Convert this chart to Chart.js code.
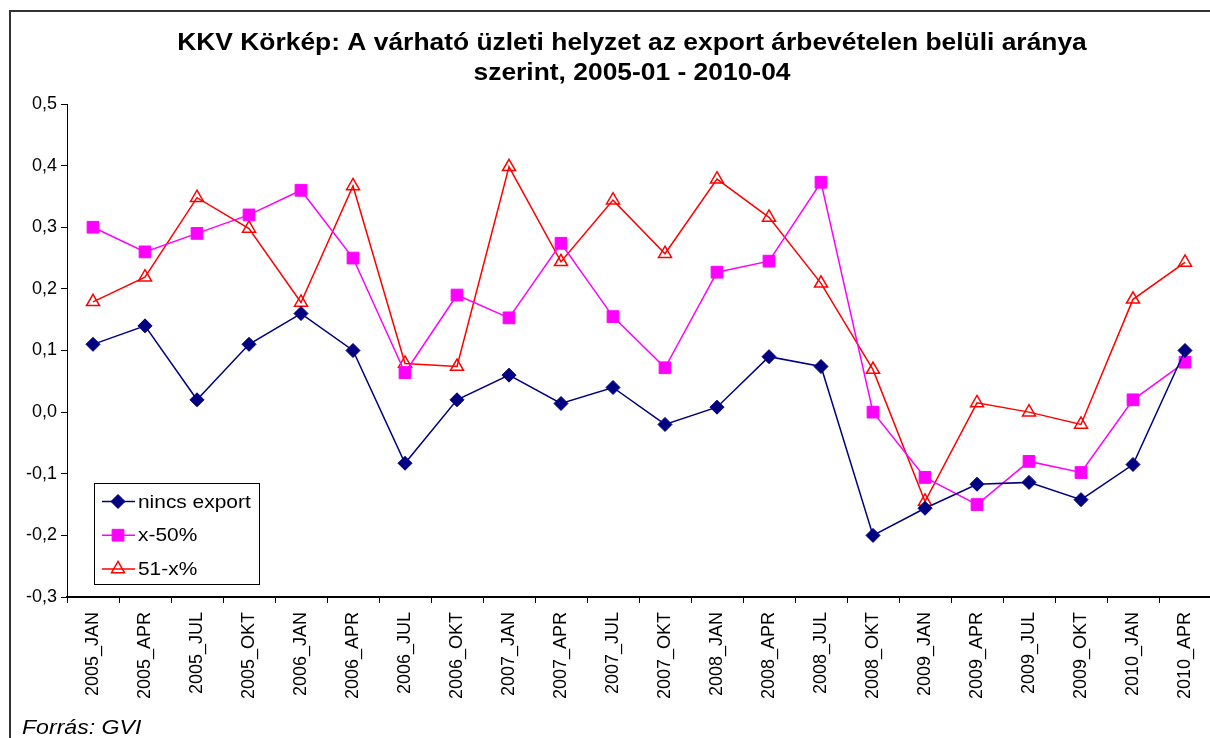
<!DOCTYPE html>
<html>
<head>
<meta charset="utf-8">
<script src="https://cdn.jsdelivr.net/npm/chart.js@4.4.0/dist/chart.umd.min.js"></script>
<style>
html, body { margin: 0; padding: 0; overflow: hidden; background: #fff; }
#wrap { position: absolute; left: 0; top: 0; width: 1230px; height: 738px; }
</style>
</head>
<body>
<div id="wrap"><canvas id="kkvChart" width="1230" height="738"></canvas></div>
<script>
var CATEGORIES = ['2005_JAN','2005_APR','2005_JUL','2005_OKT','2006_JAN','2006_APR','2006_JUL','2006_OKT',
                  '2007_JAN','2007_APR','2007_JUL','2007_OKT','2008_JAN','2008_APR','2008_JUL','2008_OKT',
                  '2009_JAN','2009_APR','2009_JUL','2009_OKT','2010_JAN','2010_APR'];
var NINCS_EXPORT = [0.11, 0.14, 0.02, 0.11, 0.16, 0.10, -0.083, 0.02, 0.06, 0.014, 0.04, -0.02,
                    0.008, 0.09, 0.074, -0.20, -0.156, -0.117, -0.114, -0.142, -0.085, 0.10];
var X_50 = [0.30, 0.26, 0.29, 0.32, 0.36, 0.25, 0.064, 0.19, 0.153, 0.274, 0.155, 0.072,
            0.227, 0.245, 0.373, 0.0, -0.106, -0.15, -0.08, -0.098, 0.02, 0.081];
var X_51 = [0.179, 0.219, 0.348, 0.298, 0.178, 0.367, 0.079, 0.074, 0.398, 0.244, 0.344, 0.257,
            0.378, 0.316, 0.209, 0.069, -0.145, 0.015, 0.0, -0.02, 0.183, 0.243];
var SERIES_NAMES = ['nincs export', 'x-50%', '51-x%'];
var TITLE_LINES = ['KKV Körkép: A várható üzleti helyzet az export árbevételen belüli aránya',
                   'szerint, 2005-01 - 2010-04'];
var SOURCE_TEXT = 'Forrás: GVI';
var Y_MIN = -0.3;
var Y_MAX = 0.5;
var Y_STEP = 0.1;

var TEXT_STRETCH = 1.1;   // the excel picture is a bit wider than tall

function stretchedText(ctx, text, x, y, align)
{
  ctx.save();
  ctx.translate(x, y);
  ctx.scale(TEXT_STRETCH, 1);
  ctx.textAlign = align;
  ctx.fillText(text, 0, 0);
  ctx.restore();
}

function fmtTick(value)
{
  if (Math.abs(value) < 1e-9) value = 0;
  return value.toFixed(1).replace('.', ',');
}

var decorPlugin = {
  id: 'decor',
  beforeDraw: function(chart) {
    var ctx = chart.ctx;
    ctx.save();
    ctx.fillStyle = '#fff';
    ctx.fillRect(0, 0, chart.width, chart.height);
    // outer frame
    ctx.strokeStyle = '#333';
    ctx.lineWidth = 2;
    ctx.strokeRect(10, 11, 1400, 900);
    ctx.restore();
  },
  afterDraw: function(chart) {
    var ctx = chart.ctx;
    ctx.save();
    ctx.fillStyle = '#000';
    ctx.textBaseline = 'middle';

    // title
    ctx.font = 'bold 24px Arial, "Liberation Sans", sans-serif';
    stretchedText(ctx, TITLE_LINES[0], 632, 43, 'center');
    stretchedText(ctx, TITLE_LINES[1], 632, 73, 'center');

    // source
    ctx.font = 'italic 21px Arial, "Liberation Sans", sans-serif';
    stretchedText(ctx, SOURCE_TEXT, 22, 728, 'left');

    // legend box
    ctx.fillStyle = '#fff';
    ctx.fillRect(94.5, 483.5, 165, 101);
    ctx.strokeStyle = '#000';
    ctx.lineWidth = 1;
    ctx.strokeRect(94.5, 483.5, 165, 101);

    var ds = chart.data.datasets;
    for (var i = 0; i < ds.length; i++)
    {
      var y = 501.5 + i * 33.7;
      ctx.strokeStyle = ds[i].borderColor;
      ctx.lineWidth = ds[i].borderWidth;
      ctx.beginPath();
      ctx.moveTo(102, y);
      ctx.lineTo(135, y);
      ctx.stroke();

      ctx.fillStyle = ds[i].pointBackgroundColor;
      ctx.strokeStyle = ds[i].pointBorderColor;
      ctx.lineWidth = ds[i].pointBorderWidth;
      Chart.helpers.drawPoint(ctx, {
        pointStyle: ds[i].pointStyle,
        radius: ds[i].pointRadius,
        borderWidth: ds[i].pointBorderWidth,
        rotation: 0
      }, 118, y);

      ctx.fillStyle = '#000';
      ctx.font = '19px Arial, "Liberation Sans", sans-serif';
      stretchedText(ctx, ds[i].label, 138, y + 1, 'left');
    }
    ctx.restore();
  }
};

function drawChart()
{
  var ctx = document.getElementById('kkvChart');
  var data = {
    labels: CATEGORIES,
    datasets: [
      {
        label: SERIES_NAMES[0],
        data: NINCS_EXPORT,
        borderColor: '#000080',
        borderWidth: 1.5,
        pointStyle: 'rectRot',
        pointRadius: 7,
        pointBackgroundColor: '#000080',
        pointBorderColor: '#000080',
        pointBorderWidth: 1
      },
      {
        label: SERIES_NAMES[1],
        data: X_50,
        borderColor: '#ff00ff',
        borderWidth: 1.5,
        pointStyle: 'rect',
        pointRadius: 8.3,
        pointBackgroundColor: '#ff00ff',
        pointBorderColor: '#ff00ff',
        pointBorderWidth: 1
      },
      {
        label: SERIES_NAMES[2],
        data: X_51,
        borderColor: '#ff0000',
        borderWidth: 1.5,
        pointStyle: 'triangle',
        pointRadius: 7.5,
        pointBackgroundColor: 'rgba(255,255,255,0)',
        pointBorderColor: '#ff0000',
        pointBorderWidth: 1.5
      }
    ]
  };
  var tickFont = { family: 'Arial, "Liberation Sans", sans-serif', size: 18 };
  var options = {
    responsive: false,
    animation: false,
    events: [],
    layout: { padding: { left: 0, top: 104, right: 19, bottom: 0 } },
    elements: { line: { tension: 0 } },
    plugins: {
      legend: { display: false },
      title: { display: false },
      tooltip: { enabled: false }
    },
    scales: {
      x: {
        type: 'category',
        offset: true,
        grid: { offset: true, drawOnChartArea: false, drawTicks: true, tickLength: 6, color: '#000', lineWidth: 1 },
        border: { color: '#000', width: 2 },
        ticks: { minRotation: 90, maxRotation: 90, autoSkip: false, padding: 9, color: '#000', font: tickFont },
        afterFit: function(scale) { scale.height = 141; }
      },
      y: {
        min: Y_MIN,
        max: Y_MAX,
        grid: { drawOnChartArea: false, drawTicks: true, tickLength: 6, color: '#000', lineWidth: 1 },
        border: { color: '#000', width: 1 },
        ticks: { stepSize: Y_STEP, padding: 4, color: '#000', font: tickFont, callback: fmtTick },
        afterFit: function(scale) { scale.width = 67; }
      }
    }
  };
  new Chart(ctx, {
    type: 'line',
    data: data,
    options: options,
    plugins: [decorPlugin]
  });
}

drawChart();
</script>
</body>
</html>
